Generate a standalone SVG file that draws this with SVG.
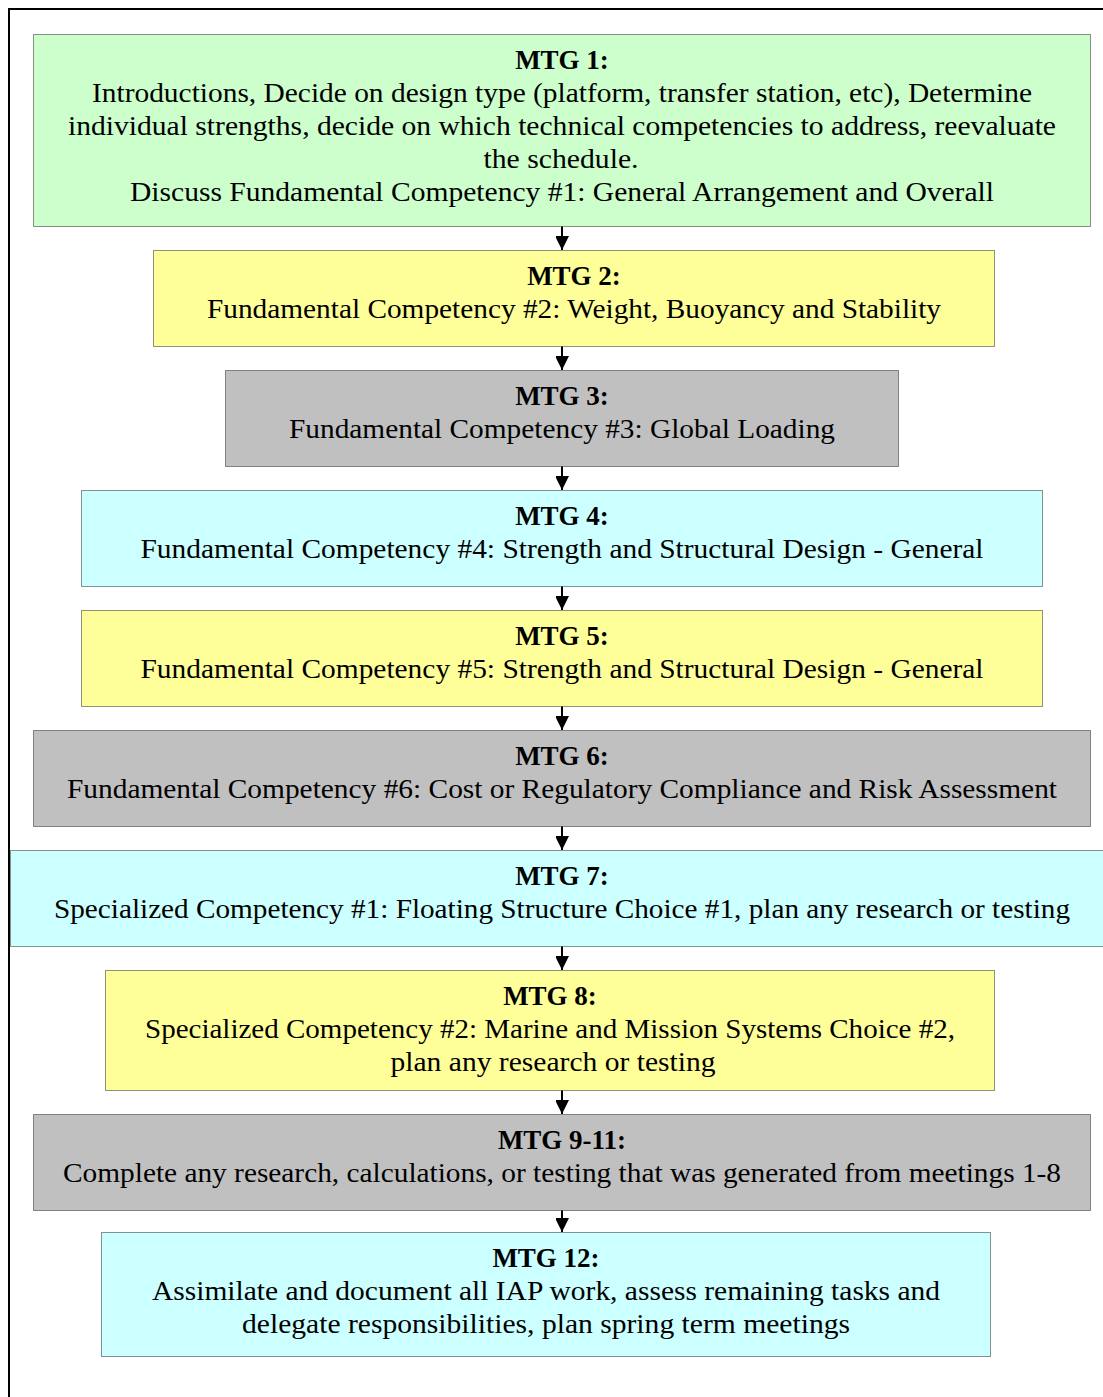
<svg xmlns="http://www.w3.org/2000/svg" width="1103" height="1397" viewBox="0 0 1103 1397">
<style>
.box{stroke:#222;stroke-width:1;stroke-dasharray:1 1}
.g{fill:#CCFFCC}.y{fill:#FFFF99}.s{fill:#C0C0C0}.c{fill:#CCFFFF}
text{font-family:"Liberation Serif","Times New Roman",serif;fill:#000;text-anchor:middle}
.h{font-weight:bold;font-size:27px}
.b{font-size:28px}
.con line{stroke:#000;stroke-width:2}
</style>
<defs>
<marker id="ah" markerWidth="14" markerHeight="13" refX="14" refY="7" orient="auto" markerUnits="userSpaceOnUse">
<path d="M0,0 L14,7 L0,14 Z" fill="#000"/>
</marker>
</defs>
<rect x="9" y="9" width="1120" height="1420" fill="#fff" stroke="#000" stroke-width="2"/>
<g class="con">
<line x1="562" y1="226" x2="562" y2="250" marker-end="url(#ah)"/>
<line x1="562" y1="346" x2="562" y2="370" marker-end="url(#ah)"/>
<line x1="562" y1="466" x2="562" y2="490" marker-end="url(#ah)"/>
<line x1="562" y1="586" x2="562" y2="610" marker-end="url(#ah)"/>
<line x1="562" y1="706" x2="562" y2="730" marker-end="url(#ah)"/>
<line x1="562" y1="826" x2="562" y2="850" marker-end="url(#ah)"/>
<line x1="562" y1="946" x2="562" y2="970" marker-end="url(#ah)"/>
<line x1="562" y1="1090" x2="562" y2="1114" marker-end="url(#ah)"/>
<line x1="562" y1="1210" x2="562" y2="1232" marker-end="url(#ah)"/>
</g>
<g id="mtg1">
<rect class="box g" x="33.5" y="34.5" width="1057" height="192"/>
<text class="h" x="562" y="69">MTG 1:</text>
<text class="b" x="562" y="102" textLength="940" lengthAdjust="spacingAndGlyphs">Introductions, Decide on design type (platform, transfer station, etc), Determine</text>
<text class="b" x="562" y="135" textLength="988" lengthAdjust="spacingAndGlyphs">individual strengths, decide on which technical competencies to address, reevaluate</text>
<text class="b" x="561" y="168" textLength="155" lengthAdjust="spacingAndGlyphs">the schedule.</text>
<text class="b" x="562" y="201" textLength="864" lengthAdjust="spacingAndGlyphs">Discuss Fundamental Competency #1: General Arrangement and Overall</text>
</g>
<g id="mtg2">
<rect class="box y" x="153.5" y="250.5" width="841" height="96"/>
<text class="h" x="574" y="285">MTG 2:</text>
<text class="b" x="574" y="318" textLength="734" lengthAdjust="spacingAndGlyphs">Fundamental Competency #2: Weight, Buoyancy and Stability</text>
</g>
<g id="mtg3">
<rect class="box s" x="225.5" y="370.5" width="673" height="96"/>
<text class="h" x="562" y="405">MTG 3:</text>
<text class="b" x="562" y="438" textLength="546" lengthAdjust="spacingAndGlyphs">Fundamental Competency #3: Global Loading</text>
</g>
<g id="mtg4">
<rect class="box c" x="81.5" y="490.5" width="961" height="96"/>
<text class="h" x="562" y="525">MTG 4:</text>
<text class="b" x="562" y="558" textLength="843" lengthAdjust="spacingAndGlyphs">Fundamental Competency #4: Strength and Structural Design - General</text>
</g>
<g id="mtg5">
<rect class="box y" x="81.5" y="610.5" width="961" height="96"/>
<text class="h" x="562" y="645">MTG 5:</text>
<text class="b" x="562" y="678" textLength="843" lengthAdjust="spacingAndGlyphs">Fundamental Competency #5: Strength and Structural Design - General</text>
</g>
<g id="mtg6">
<rect class="box s" x="33.5" y="730.5" width="1057" height="96"/>
<text class="h" x="562" y="765">MTG 6:</text>
<text class="b" x="562" y="798" textLength="990" lengthAdjust="spacingAndGlyphs">Fundamental Competency #6: Cost or Regulatory Compliance and Risk Assessment</text>
</g>
<g id="mtg7">
<rect class="box c" x="10.5" y="850.5" width="1103" height="96"/>
<text class="h" x="562" y="885">MTG 7:</text>
<text class="b" x="562" y="918" textLength="1016" lengthAdjust="spacingAndGlyphs">Specialized Competency #1: Floating Structure Choice #1, plan any research or testing</text>
</g>
<g id="mtg8">
<rect class="box y" x="105.5" y="970.5" width="889" height="120"/>
<text class="h" x="550" y="1005">MTG 8:</text>
<text class="b" x="550" y="1038" textLength="810" lengthAdjust="spacingAndGlyphs">Specialized Competency #2: Marine and Mission Systems Choice #2,</text>
<text class="b" x="553" y="1071" textLength="325" lengthAdjust="spacingAndGlyphs">plan any research or testing</text>
</g>
<g id="mtg9-11">
<rect class="box s" x="33.5" y="1114.5" width="1057" height="96"/>
<text class="h" x="562" y="1149">MTG 9-11:</text>
<text class="b" x="562" y="1182" textLength="998" lengthAdjust="spacingAndGlyphs">Complete any research, calculations, or testing that was generated from meetings 1-8</text>
</g>
<g id="mtg12">
<rect class="box c" x="101.5" y="1232.5" width="889" height="124"/>
<text class="h" x="546" y="1267">MTG 12:</text>
<text class="b" x="546" y="1300" textLength="788" lengthAdjust="spacingAndGlyphs">Assimilate and document all IAP work, assess remaining tasks and</text>
<text class="b" x="546" y="1333" textLength="608" lengthAdjust="spacingAndGlyphs">delegate responsibilities, plan spring term meetings</text>
</g>
</svg>
